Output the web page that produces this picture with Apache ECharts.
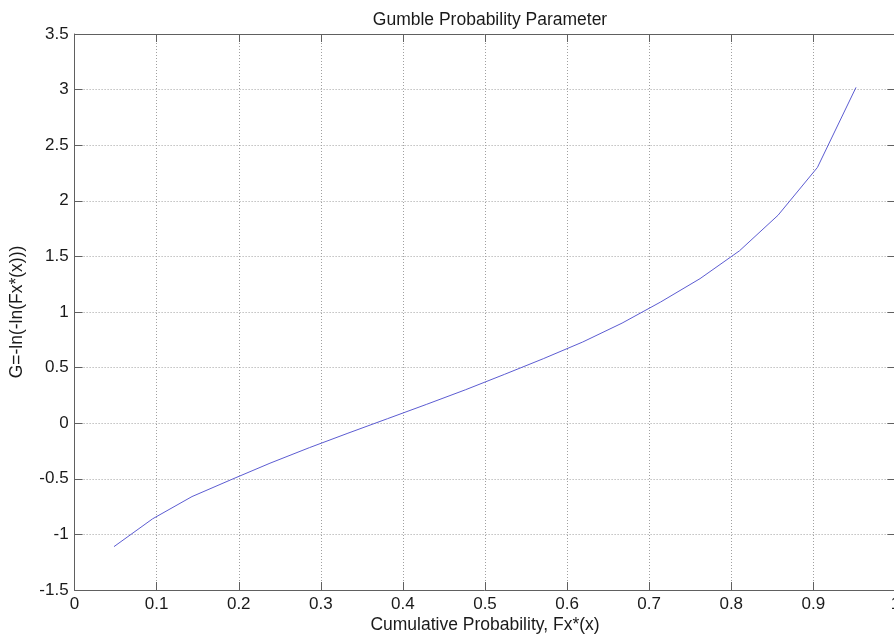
<!DOCTYPE html>
<html>
<head>
<meta charset="utf-8">
<title>Gumble Probability Parameter</title>
<script src="https://cdn.jsdelivr.net/npm/echarts@6/dist/echarts.min.js"></script>
<style>
  html, body { margin: 0; padding: 0; background: #fff; }
  #chart { width: 894px; height: 634px; }
</style>
</head>
<body>
<div id="chart"></div>
<script>
// Cumulative probability of each ranked sample, Fx*(x)
const cumulativeProbability = [
  0.048, 0.095, 0.143, 0.19, 0.238, 0.286, 0.333, 0.381, 0.429, 0.476,
  0.524, 0.571, 0.619, 0.667, 0.714, 0.762, 0.81, 0.857, 0.905, 0.952
];
// Gumbel reduced variate G = -ln(-ln(Fx*(x)))
const gumbelParameter = [
  -1.11, -0.86, -0.66, -0.51, -0.36, -0.22, -0.09, 0.04, 0.17, 0.30,
  0.44, 0.58, 0.73, 0.90, 1.09, 1.30, 1.55, 1.87, 2.30, 3.02
];

const titleText = 'Gumble Probability Parameter';
const xName = 'Cumulative Probability, Fx*(x)';
const yName = 'G=-ln(-ln(Fx*(x)))';

const FONT = 'Liberation Sans, Arial, sans-serif';
const TEXT_COLOR = '#1a1a1a';
const AXIS_COLOR = '#606060';
const GRID_COLOR = '#a0a0a0';
const FS = 17;        // tick labels
const FS_NAME = 17.5; // title and axis names

const points = cumulativeProbability.map((p, i) => [p, gumbelParameter[i]]);

const boxAxis = (extra) => Object.assign({
  type: 'value',
  axisLine: { show: true, onZero: false, lineStyle: { color: AXIS_COLOR, width: 1 } },
  axisTick: { show: true, inside: true, length: 8, lineStyle: { color: AXIS_COLOR } },
  axisLabel: { show: false },
  splitLine: { show: false }
}, extra);

const chart = echarts.init(document.getElementById('chart'), null, { renderer: 'canvas' });

chart.setOption({
  animation: false,
  backgroundColor: '#ffffff',
  title: {
    text: titleText,
    left: 485,
    textAlign: 'center',
    top: 6,
    textStyle: { fontFamily: FONT, fontSize: FS_NAME, fontWeight: 'normal', color: TEXT_COLOR }
  },
  grid: {
    left: 74.6, right: -1.4, top: 34, bottom: 44,
    containLabel: false,
    outerBoundsMode: 'none'
  },
  xAxis: [
    {
      type: 'value',
      min: 0, max: 1, interval: 0.1,
      position: 'bottom',
      name: xName,
      nameLocation: 'middle',
      nameGap: 26,
      nameMoveOverlap: false,
      nameTextStyle: { fontFamily: FONT, fontSize: FS_NAME, color: TEXT_COLOR },
      axisLine: { show: true, onZero: false, lineStyle: { color: AXIS_COLOR, width: 1 } },
      axisTick: { show: true, inside: true, length: 8, lineStyle: { color: AXIS_COLOR } },
      axisLabel: { fontFamily: FONT, fontSize: FS, color: TEXT_COLOR, margin: 6 },
      splitLine: { show: true, lineStyle: { color: GRID_COLOR, type: [1, 2], width: 1 } }
    },
    boxAxis({ min: 0, max: 1, interval: 0.1, position: 'top' })
  ],
  yAxis: [
    {
      type: 'value',
      min: -1.5, max: 3.5, interval: 0.5,
      position: 'left',
      name: yName,
      nameLocation: 'middle',
      nameGap: 48,
      nameMoveOverlap: false,
      nameTextStyle: { fontFamily: FONT, fontSize: FS_NAME, color: TEXT_COLOR },
      axisLine: { show: true, onZero: false, lineStyle: { color: AXIS_COLOR, width: 1 } },
      axisTick: { show: true, inside: true, length: 8, lineStyle: { color: AXIS_COLOR } },
      axisLabel: { fontFamily: FONT, fontSize: FS, color: TEXT_COLOR, margin: 6 },
      splitLine: { show: true, lineStyle: { color: GRID_COLOR, type: [1, 2], width: 1 } }
    },
    boxAxis({ min: -1.5, max: 3.5, interval: 0.5, position: 'right' })
  ],
  series: [
    {
      type: 'line',
      data: points,
      xAxisIndex: 0,
      yAxisIndex: 0,
      showSymbol: false,
      symbol: 'none',
      smooth: false,
      lineStyle: { color: '#5c5cd2', width: 1 }
    }
  ]
});
</script>
</body>
</html>
